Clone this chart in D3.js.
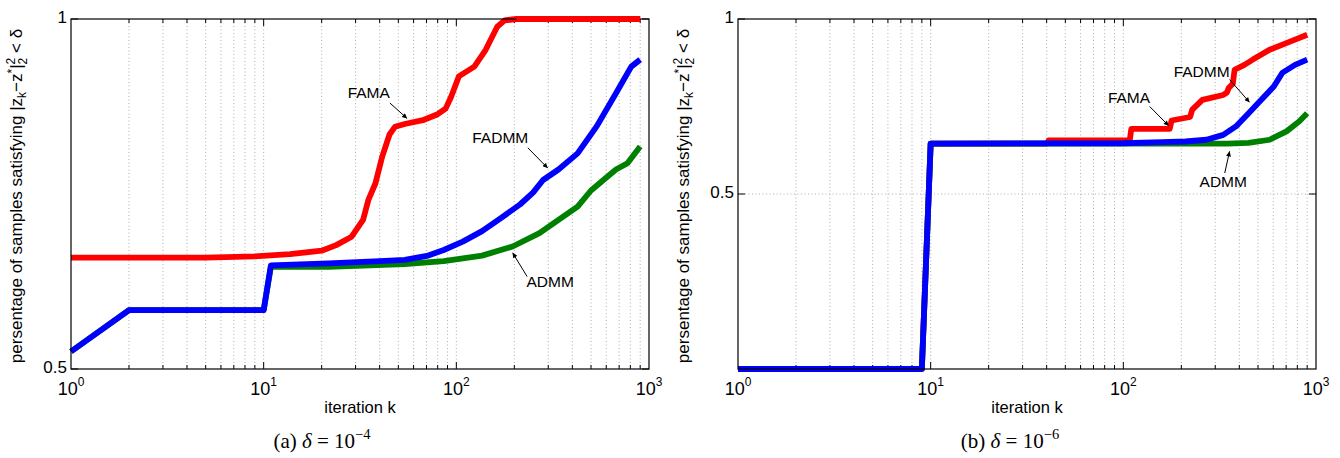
<!DOCTYPE html>
<html>
<head>
<meta charset="utf-8">
<script src="https://cdn.jsdelivr.net/npm/d3@7"></script>
<style>
  body { margin: 0; background: #fff; }
  text { font-family: "Liberation Sans", Arial, sans-serif; }
</style>
</head>
<body>
<svg id="chart" width="1340" height="458"></svg>
<script>
// ---- data: [iteration k, fraction of samples] ----
const xTickValues = [1, 10, 100, 1000];
const xTickExp = ["0", "1", "2", "3"];
const yTicksA = [0.5, 1];
const yTickLabelsA = ["0.5", "1"];
const yTicksB = [0.5, 1];
const yTickLabelsB = ["0.5", "1"];

// (a) delta = 1e-4
const famaA = [[1, 0.659], [5, 0.659], [9, 0.661], [13.7, 0.664], [20, 0.669], [23.8, 0.677],
  [28.6, 0.689], [32.8, 0.713], [35, 0.742], [38, 0.765], [41.2, 0.803], [45, 0.835],
  [48, 0.846], [54, 0.850], [68, 0.856], [80, 0.864], [88, 0.872], [94, 0.889], [103, 0.918],
  [124, 0.932], [142, 0.956], [163, 0.989], [178, 0.998], [205, 1.0], [900, 1.0]];
const admmA = [[1, 0.525], [2, 0.584], [10, 0.584], [10.9, 0.646], [21.7, 0.646], [54, 0.650],
  [86, 0.654], [136, 0.662], [196, 0.675], [270, 0.694], [339, 0.713], [426, 0.732],
  [500, 0.755], [580, 0.770], [674, 0.785], [773, 0.794], [900, 0.818]];
const fadmmA = [[1, 0.525], [2, 0.584], [10, 0.584], [10.9, 0.648], [21.7, 0.651], [40, 0.654],
  [54, 0.656], [71.5, 0.662], [86, 0.670], [108, 0.682], [136, 0.697], [171, 0.716],
  [214, 0.735], [250, 0.752], [282, 0.770], [339, 0.785], [426, 0.808], [536, 0.847],
  [674, 0.894], [809, 0.932], [900, 0.942]];

// (b) delta = 1e-6
const famaB = [[1, 0], [9, 0], [10, 0.644], [40, 0.644], [41, 0.653], [108, 0.653], [110, 0.686],
  [174, 0.686], [178, 0.710], [222, 0.720], [228, 0.741], [257, 0.769], [330, 0.783],
  [345, 0.790], [352, 0.803], [370, 0.815], [378, 0.855], [425, 0.869], [470, 0.884],
  [574, 0.912], [739, 0.936], [900, 0.955]];
const admmB = [[1, 0], [9, 0], [10, 0.644], [347, 0.644], [447, 0.646], [575, 0.655],
  [703, 0.679], [817, 0.707], [900, 0.731]];
const fadmmB = [[1, 0], [9, 0], [10, 0.644], [100, 0.645], [160, 0.648], [210, 0.650],
  [270, 0.655], [330, 0.669], [384, 0.693], [447, 0.731], [520, 0.769], [604, 0.807],
  [668, 0.846], [778, 0.869], [900, 0.884]];

// annotations: label position and arrow from/to, all in data space
const notesA = [
  { text: "FAMA", at: [35.1, 0.893], from: [45.2, 0.880], to: [55.5, 0.858] },
  { text: "FADMM", at: [169, 0.828], from: [235, 0.816], to: [298, 0.787] },
  { text: "ADMM", at: [307, 0.623], from: [233, 0.632], to: [196, 0.666] }
];
const notesB = [
  { text: "FAMA", at: [107, 0.771], from: [137, 0.750], to: [172, 0.695] },
  { text: "FADMM", at: [255, 0.847], from: [356, 0.827], to: [452, 0.762] },
  { text: "ADMM", at: [330, 0.531], from: [336, 0.560], to: [356, 0.622] }
];

const svg = d3.select("#chart");

svg.append("defs").append("marker")
  .attr("id", "arrow")
  .attr("viewBox", "0 0 10 10")
  .attr("refX", 10).attr("refY", 5)
  .attr("markerWidth", 7).attr("markerHeight", 5)
  .attr("markerUnits", "userSpaceOnUse")
  .attr("orient", "auto")
  .append("path").attr("d", "M0,0L10,5L0,10z").attr("fill", "#000");

function drawPanel(p) {
  const x = d3.scaleLog().domain([1, 1000]).range([p.left, p.right]);
  const y = d3.scaleLinear().domain(p.yDomain).range([p.bottom, p.top]);
  const g = svg.append("g");

  // minor/major positions for grid + ticks
  const minor = [];
  [1, 10, 100].forEach(d => { for (let m = 2; m <= 9; m++) minor.push(m * d); });
  const major = [10, 100];

  // vertical dotted grid
  g.selectAll(".vgrid").data(minor.concat(major)).enter().append("line")
    .attr("x1", d => x(d)).attr("x2", d => x(d))
    .attr("y1", p.top).attr("y2", p.bottom)
    .attr("stroke", "#9a9a9a").attr("stroke-width", 0.8)
    .attr("stroke-dasharray", "1,2.5");

  // horizontal dotted grid (interior ticks only)
  g.selectAll(".hgrid").data(p.yTicks.filter(v => v > p.yDomain[0] && v < p.yDomain[1]))
    .enter().append("line")
    .attr("x1", p.left).attr("x2", p.right)
    .attr("y1", d => y(d)).attr("y2", d => y(d))
    .attr("stroke", "#9a9a9a").attr("stroke-width", 0.8)
    .attr("stroke-dasharray", "1,2.5");

  // ticks inside the box, bottom & top
  const tickLen = d => (major.includes(d) ? 7 : 4);
  minor.concat(major).forEach(d => {
    g.append("line").attr("x1", x(d)).attr("x2", x(d))
      .attr("y1", p.bottom).attr("y2", p.bottom - tickLen(d))
      .attr("stroke", "#000").attr("stroke-width", 1);
    g.append("line").attr("x1", x(d)).attr("x2", x(d))
      .attr("y1", p.top).attr("y2", p.top + tickLen(d))
      .attr("stroke", "#000").attr("stroke-width", 1);
  });
  p.yTicks.forEach(v => {
    g.append("line").attr("x1", p.left).attr("x2", p.left + 7)
      .attr("y1", y(v)).attr("y2", y(v)).attr("stroke", "#000");
    g.append("line").attr("x1", p.right).attr("x2", p.right - 7)
      .attr("y1", y(v)).attr("y2", y(v)).attr("stroke", "#000");
  });

  // series
  const line = d3.line().x(d => x(d[0])).y(d => y(d[1]));
  p.series.forEach(s => {
    g.append("path").datum(s.data)
      .attr("d", line)
      .attr("fill", "none")
      .attr("stroke", s.color)
      .attr("stroke-width", 5.8)
      .attr("stroke-linejoin", "round");
  });

  // box
  g.append("rect")
    .attr("x", p.left).attr("y", p.top)
    .attr("width", p.right - p.left).attr("height", p.bottom - p.top)
    .attr("fill", "none").attr("stroke", "#000").attr("stroke-width", 1.2);
  // series drawn on top of the top edge like matlab does
  p.series.forEach(s => {
    g.append("path").datum(s.data.filter(d => d[1] >= p.yDomain[1]))
      .attr("d", line).attr("fill", "none").attr("stroke", s.color)
      .attr("stroke-width", 5.8);
  });

  // y tick labels
  p.yTicks.forEach((v, i) => {
    g.append("text").attr("x", p.left - 4).attr("y", y(v))
      .attr("text-anchor", "end").attr("dominant-baseline", "middle")
      .attr("font-size", 17).text(p.yTickLabels[i]);
  });

  // x tick labels 10^n
  xTickValues.forEach((v, i) => {
    const t = g.append("text").attr("x", x(v)).attr("y", p.bottom + 26)
      .attr("text-anchor", "middle").attr("font-size", 18);
    t.append("tspan").text("10");
    t.append("tspan").attr("font-size", 12).attr("dy", -9).text(xTickExp[i]);
  });

  // x axis label
  g.append("text").attr("x", (p.left + p.right) / 2).attr("y", p.bottom + 44)
    .attr("text-anchor", "middle").attr("font-size", 16.5).text("iteration k");

  // y axis label
  const t = g.append("text")
    .attr("transform", `translate(${p.left - 49},${(p.top + p.bottom) / 2 + 2}) rotate(-90)`)
    .attr("text-anchor", "middle").attr("font-size", 17);
  t.append("tspan").text("persentage of samples satisfying |z");
  t.append("tspan").attr("font-size", 12).attr("dy", 4).text("k");
  t.append("tspan").attr("dy", -4).text("\u2212z");
  t.append("tspan").attr("font-size", 12).attr("dy", -6).text("*");
  t.append("tspan").attr("dy", 6).text("|");
  t.append("tspan").attr("font-size", 12).attr("dy", -7).text("2");
  t.append("tspan").attr("font-size", 12).attr("dx", -6.7).attr("dy", 12).text("2");
  t.append("tspan").attr("dy", -5).text(" < \u03b4");

  // annotations
  p.notes.forEach(n => {
    g.append("text").attr("x", x(n.at[0])).attr("y", y(n.at[1]))
      .attr("text-anchor", "middle").attr("dominant-baseline", "middle")
      .attr("font-size", 15.5).text(n.text);
    g.append("line")
      .attr("x1", x(n.from[0])).attr("y1", y(n.from[1]))
      .attr("x2", x(n.to[0])).attr("y2", y(n.to[1]))
      .attr("stroke", "#000").attr("stroke-width", 1)
      .attr("marker-end", "url(#arrow)");
  });

  // caption
  const c = svg.append("text").attr("x", p.captionX).attr("y", 448)
    .attr("text-anchor", "middle")
    .style("font-family", "'Liberation Serif', 'Times New Roman', serif")
    .attr("font-size", 21);
  c.append("tspan").text(p.caption + " ");
  c.append("tspan").attr("font-style", "italic").text("\u03b4");
  c.append("tspan").text(" = 10");
  c.append("tspan").attr("font-size", 14.5).attr("dy", -9).text(p.captionExp);
}

drawPanel({
  left: 71, right: 649, top: 19, bottom: 369,
  yDomain: [0.5, 1], yTicks: yTicksA, yTickLabels: yTickLabelsA,
  series: [
    { data: famaA, color: "#ff0000" },
    { data: admmA, color: "#008000" },
    { data: fadmmA, color: "#0000ff" }
  ],
  notes: notesA, caption: "(a)", captionExp: "\u22124", captionX: 322
});

drawPanel({
  left: 738, right: 1316, top: 19, bottom: 369,
  yDomain: [0, 1], yTicks: yTicksB, yTickLabels: yTickLabelsB,
  series: [
    { data: famaB, color: "#ff0000" },
    { data: admmB, color: "#008000" },
    { data: fadmmB, color: "#0000ff" }
  ],
  notes: notesB, caption: "(b)", captionExp: "\u22126", captionX: 1010
});
</script>
</body>
</html>
